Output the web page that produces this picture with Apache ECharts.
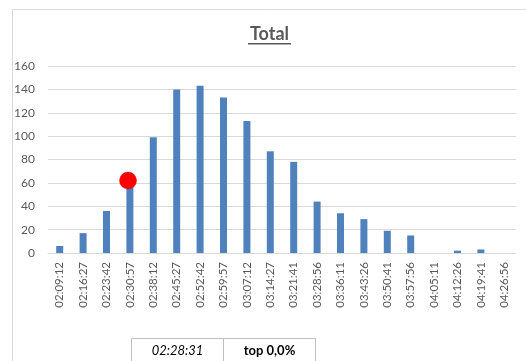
<!DOCTYPE html>
<html>
<head>
<meta charset="utf-8">
<script src="https://cdn.jsdelivr.net/npm/echarts@6/dist/echarts.min.js"></script>
<style>
html,body{margin:0;padding:0;background:#fff;}
#c{width:526px;height:361px;}
</style>
</head>
<body>
<div id="c"></div>
<script>
const categories = ["02:09:12","02:16:27","02:23:42","02:30:57","02:38:12","02:45:27","02:52:42","02:59:57","03:07:12","03:14:27","03:21:41","03:28:56","03:36:11","03:43:26","03:50:41","03:57:56","04:05:11","04:12:26","04:19:41","04:26:56"];
const totals = [6,17,36,60,99,140,143,133,113,87,78,44,34,29,19,15,0,2,3,0];
const markerPoint = [2.92, 62];
const markerTime = "02:28:31";
const topLabel = "top 0,0%";
const titleText = "Total";

const FONT = "Lato, 'Open Sans', sans-serif";
const chart = echarts.init(document.getElementById('c'), null, {renderer:'canvas'});
chart.setOption({
  animation:false,
  backgroundColor:'#fff',
  grid:{left:48, right:10, top:66, bottom:108, containLabel:false},
  xAxis:[{
    type:'category', data:categories, boundaryGap:true,
    axisLine:{show:true, lineStyle:{color:'#d9d9d9', width:1}},
    axisTick:{show:false},
    axisLabel:{rotate:90, margin:9, fontFamily:FONT, fontSize:11.5, color:'#595959', interval:0}
  },{
    type:'value', min:-0.5, max:19.5, show:false
  }],
  yAxis:{
    type:'value', min:0, max:160, interval:20,
    axisLine:{show:false}, axisTick:{show:false},
    splitLine:{lineStyle:{color:'#d9d9d9', width:1}},
    axisLabel:{margin:13, fontFamily:FONT, fontSize:12, color:'#595959'}
  },
  series:[{
    type:'bar', data:totals, barWidth:7, xAxisIndex:0,
    itemStyle:{color:'#4f81bd'}
  },{
    type:'scatter', xAxisIndex:1, data:[markerPoint], symbolSize:17,
    itemStyle:{color:'#ff0000', opacity:1, borderColor:'#e00000', borderWidth:0.5}, z:5
  }],
  graphic:[
    {type:'rect', shape:{x:12.5, y:9.5, width:600, height:400}, style:{fill:null, stroke:'#d9d9d9', lineWidth:1}, z:-10, silent:true},
    {type:'rect', shape:{x:131.5, y:338.5, width:92, height:40}, style:{fill:'#fff', stroke:'#bfbfbf', lineWidth:1}},
    {type:'rect', shape:{x:223.5, y:338.5, width:92, height:40}, style:{fill:'#fff', stroke:'#bfbfbf', lineWidth:1}},
    {type:'text', x:177.5, y:351, style:{text:markerTime, fontFamily:FONT, fontSize:13, fontStyle:'italic', fill:'#000', align:'center', verticalAlign:'middle'}},
    {type:'text', x:269.5, y:351, style:{text:topLabel, fontFamily:FONT, fontSize:13, fontWeight:'bold', fill:'#000', align:'center', verticalAlign:'middle'}},
    {type:'text', x:269.5, y:34, style:{text:titleText, fontFamily:FONT, fontSize:18, fontWeight:'bold', fill:'#595959', align:'center', verticalAlign:'middle'}},
    {type:'rect', shape:{x:248, y:43, width:43, height:1.5}, style:{fill:'#595959'}}
  ]
});
</script>
</body>
</html>
